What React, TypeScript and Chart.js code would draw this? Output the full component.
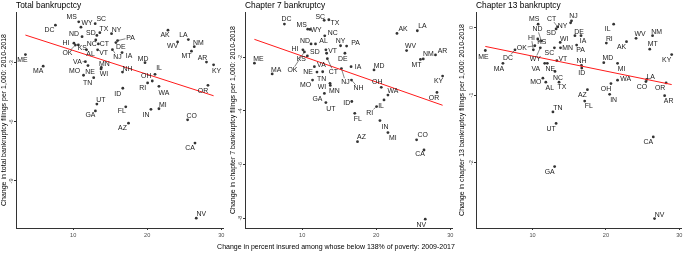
import React, { useEffect, useRef } from 'react';
import { Chart, registerables } from 'chart.js';

Chart.register(...registerables);

// ---------------- data ----------------
const states = ['AL','AK','AZ','AR','CA','CO','CT','DE','DC','FL','GA','HI','ID','IL','IN','IA','KS','KY','LA','ME','MD','MA','MI','MN','MS','MO','MT','NE','NV','NH','NJ','NM','NY','NC','ND','OH','OK','OR','PA','RI','SC','SD','TN','TX','UT','VT','VA','WA','WV','WI','WY'];

const insuredChange = [11.8,22.8,17.47,28.0,26.45,25.45,13.4,15.77,7.6,17.1,13.0,10.1,16.7,21.05,20.5,16.6,10.7,28.96,25.55,3.55,19.7,5.95,21.58,13.8,10.75,11.4,25.97,12.0,26.62,16.66,15.3,26.35,15.18,13.05,11.2,20.68,10.3,28.2,16.0,20.05,12.97,13.2,12.77,13.6,13.2,13.3,11.65,21.58,24.1,13.76,11.05];

const totalChange = [-2.35,-1.35,-6.07,-2.97,-7.08,-5.9,-2.05,-1.98,-1.10,-5.24,-5.45,-2.01,-4.3,-3.59,-5.37,-2.49,-2.1,-3.11,-1.83,-2.59,-3.0,-3.18,-5.34,-3.24,-0.93,-3.64,-2.42,-3.15,-10.89,-3.48,-2.34,-2.19,-1.53,-1.85,-1.68,-3.93,-2.11,-4.15,-1.88,-4.03,-1.02,-1.62,-3.76,-1.48,-5.1,-2.35,-2.95,-4.2,-1.95,-3.32,-1.2];

const ch7Change = [-1.5,-1.11,-5.15,-1.91,-5.46,-5.08,-2.05,-1.85,-0.76,-4.09,-3.35,-1.72,-3.65,-3.59,-4.36,-2.35,-1.95,-2.7,-1.01,-2.22,-2.47,-2.62,-4.81,-3.05,-0.95,-2.85,-2.08,-2.55,-8.04,-2.85,-2.42,-2.06,-1.57,-1.2,-1.5,-3.12,-1.8,-3.31,-1.58,-3.84,-0.62,-1.72,-2.54,-0.6,-3.69,-1.85,-2.35,-3.41,-1.75,-2.97,-0.96];

const ch13Change = [-0.81,-0.21,-0.92,-1.01,-1.62,-0.8,0.01,-0.12,-0.33,-1.09,-2.06,-0.33,-0.6,0.05,-0.99,-0.12,-0.17,-0.4,-0.77,-0.34,-0.52,-0.53,-0.53,-0.3,0.05,-0.75,-0.32,-0.53,-2.83,-0.56,0.1,-0.12,0.07,-0.65,-0.2,-0.83,-0.27,-0.82,-0.26,-0.23,-0.3,-0.02,-1.25,-0.81,-1.42,-0.49,-0.53,-0.78,-0.16,-0.22,-0.3];

// fitted regression line values at min / max insured change
const fitTotal = [-1.60, -4.68];
const fitCh7 = [-1.33, -3.79];
const fitCh13 = [-0.28, -0.845];

const xTicks = [10, 20, 30];
const totalTicks = [-9, -6, -3];
const ch7Ticks = [-8, -6, -4, -2];
const ch13Ticks = [-2, -1, 0];

const xRange = [2.28, 30.23];
const totalRange = [-11.39, -0.43];
const ch7Range = [-8.37, -0.31];
const ch13Range = [-2.97, 0.23];

const xTitle = 'Change in percent insured among whose below 138% of poverty: 2009-2017';

// ---------------- label placement (pixel offsets of label centre from point) ----------------
type Off = number[];
const offTotal: Record<string, Off> = {
  AL: [4, 4], AK: [-3, 5], AZ: [-6, 5], AR: [-4, -4], CA: [-5, 5], CO: [4, -4], CT: [6, 0], DE: [5, 4],
  DC: [-6, 5], FL: [-4, 4], GA: [-5, 4], HI: [-8, 0], ID: [-5, 6], IL: [4, -6], IN: [-5, 5], IA: [7, 3],
  KS: [4, 3], KY: [3, 6], LA: [-5, -5], ME: [-3, 5], MD: [-2, -4], MA: [-5, 5], MI: [4, -4], MN: [3, -4],
  MS: [-7, -5], MO: [-9, -4], MT: [-5, 5], NE: [2, 6], NV: [5, -4], NH: [5, -3], NJ: [5, 7, 1], NM: [4, -4],
  NY: [5, -4], NC: [-4, 4], ND: [-8, -3], OH: [-6, -5], OK: [-8, 8, 1], OR: [-5, 5], PA: [13, -3, 1], RI: [-5, 5],
  SC: [6, -5], SD: [-6, -3], TN: [-6, 5], TX: [4, -4], UT: [4, -4], VT: [6, 3], VA: [-8, 0, 1], WA: [5, 6],
  WV: [-5, 4], WI: [3, 5], WY: [6, -4],
};
const offCh7: Record<string, Off> = {
  AL: [8, -3], AK: [6, -5], AZ: [4, -5], AR: [7, -4], CA: [-4, 4], CO: [6, -5], CT: [6, 13, 1], DE: [-2, 6],
  DC: [2, -5], FL: [3, 5], GA: [-7, 5], HI: [-8, -1], ID: [-5, 1], IL: [-3, 6], IN: [5, 6], IA: [7, 0],
  KS: [-6, 3, 1], KY: [-4, 5], LA: [5, -5], ME: [4, -4], MD: [5, -4], MA: [4, -4], MI: [5, 5], MN: [4, 5],
  MS: [-6, -4], MO: [-7, 5], MT: [-4, 5], NE: [-9, 0], NV: [-4, 6], NH: [7, 8, 1], NJ: [4, 13, 1], NM: [5, -5],
  NY: [0, -5], NC: [8, -3], ND: [-6, -3], OH: [-4, -6], OK: [-12, 18, 1], OR: [-3, 5], PA: [9, -3], RI: [-7, 6, 1],
  SC: [-4, -4], SD: [-11, 2], TN: [-1, 7], TX: [6, 3], UT: [5, 6], VT: [6, -2], VA: [7, -2], WA: [5, -4],
  WV: [4, -5], WI: [-8, 4], WY: [6, 0],
};
const offCh13: Record<string, Off> = {
  AL: [4, 6], AK: [-5, 5], AZ: [-5, 5], AR: [4, 5], CA: [-5, 5], CO: [-4, 5], CT: [-6, -8, 1], DE: [4, -4],
  DC: [-7, 8, 1], FL: [4, 5], GA: [-5, 5], HI: [-2, -12, 1], ID: [0, 5], IL: [-6, 5], IN: [4, 5], IA: [2, 5],
  KS: [4, 3], KY: [-5, 5], LA: [4, -3], ME: [-2, 6], MD: [4, -5], MA: [-4, 5], MI: [4, 5], MN: [7, 0],
  MS: [-4, -5], MO: [-7, 4], MT: [3, -5], NE: [3, 5], NV: [5, -4], NH: [0, -5], NJ: [2, -5], NM: [4, -4],
  NY: [-8, 3], NC: [3, 6], ND: [-4, -12, 1], OH: [-5, 5], OK: [-13, 2, 1], OR: [-6, 5], PA: [4, 5], RI: [3, -4],
  SC: [-5, 5], SD: [-5, 4], TN: [5, -4], TX: [3, 5], UT: [-5, 5], VT: [6, -2], VA: [-9, 5], WA: [8, -1],
  WV: [4, -5], WI: [4, -4], WY: [-5, 11, 1],
};

const FONT = "'Liberation Sans', Arial, Helvetica, sans-serif";

function makeLabelPlugin(offsets: Record<string, Off>) {
  return {
    id: 'stateLabels',
    afterDatasetsDraw(chart: any) {
      const meta = chart.getDatasetMeta(1);
      const ctx = chart.ctx as CanvasRenderingContext2D;
      ctx.save();
      ctx.font = `6.9px ${FONT}`;
      ctx.textAlign = 'center';
      ctx.textBaseline = 'middle';
      meta.data.forEach((pt: any, i: number) => {
        const name = states[i];
        const o = offsets[name] || [5, -4];
        const lx = pt.x + o[0];
        const ly = pt.y + o[1];
        if (o[2]) {
          const hw = ctx.measureText(name).width / 2 + 0.8;
          const hh = 3.3;
          const vx = pt.x - lx;
          const vy = pt.y - ly;
          const t = Math.min(vx !== 0 ? hw / Math.abs(vx) : Infinity, vy !== 0 ? hh / Math.abs(vy) : Infinity);
          if (t < 1) {
            const len = Math.hypot(vx, vy);
            ctx.beginPath();
            ctx.moveTo(lx + vx * t, ly + vy * t);
            ctx.lineTo(pt.x - (vx / len) * 1.3, pt.y - (vy / len) * 1.3);
            ctx.strokeStyle = '#333';
            ctx.lineWidth = 0.6;
            ctx.stroke();
          }
        }
        ctx.fillStyle = '#1a1a1a';
        ctx.fillText(name, lx, ly + 0.3);
      });
      ctx.restore();
    },
  };
}

interface PanelProps {
  left: number;
  width: number;
  yValues: number[];
  yTicks: number[];
  yRange: number[];
  fit: number[];
  title: string;
  yTitle: string;
  offsets: Record<string, Off>;
  yAxisWidth: number;
  padRight: number;
}

function Panel(p: PanelProps) {
  const ref = useRef<HTMLCanvasElement>(null);
  useEffect(() => {
    if (!ref.current) return;
    const xMin = Math.min(...insuredChange);
    const xMax = Math.max(...insuredChange);
    const axisColor = '#333';
    const chart = new Chart(ref.current, {
      type: 'scatter',
      data: {
        datasets: [
          {
            data: [
              { x: xMin, y: p.fit[0] },
              { x: xMax, y: p.fit[1] },
            ],
            showLine: true,
            borderColor: '#ff1a1a',
            borderWidth: 1,
            pointRadius: 0,
            order: 0,
          } as any,
          {
            data: insuredChange.map((x, i) => ({ x, y: p.yValues[i] })),
            pointRadius: 1.4,
            pointBackgroundColor: '#333',
            pointBorderWidth: 0,
            order: 1,
          } as any,
        ],
      },
      options: {
        responsive: false,
        animation: false,
        layout: { padding: { left: 0, right: p.padRight, top: 0, bottom: 0 } },
        plugins: {
          legend: { display: false },
          tooltip: { enabled: false },
          title: {
            display: true,
            text: p.title,
            align: 'start',
            fullSize: false,
            color: '#000',
            font: { family: FONT, size: 8.4, weight: 'normal', lineHeight: 1.25 },
            padding: { top: 0, bottom: 1.5 },
          },
        },
        scales: {
          x: {
            type: 'linear',
            min: xRange[0],
            max: xRange[1],
            afterBuildTicks: (s: any) => {
              s.ticks = xTicks.map((v) => ({ value: v }));
            },
            afterFit: (s: any) => {
              s.height = 25;
              s.paddingLeft = 0;
              s.paddingRight = 0;
            },
            grid: { drawOnChartArea: false, drawTicks: true, tickLength: 2, color: axisColor, lineWidth: 1 },
            border: { display: true, color: axisColor, width: 1 },
            ticks: { font: { family: FONT, size: 5.6 }, color: '#4d4d4d', padding: 2, maxRotation: 0 },
          },
          y: {
            type: 'linear',
            min: p.yRange[0],
            max: p.yRange[1],
            afterBuildTicks: (s: any) => {
              s.ticks = p.yTicks.map((v) => ({ value: v }));
            },
            afterFit: (s: any) => {
              s.width = p.yAxisWidth;
              s.paddingTop = 0;
              s.paddingBottom = 0;
            },
            grid: { drawOnChartArea: false, drawTicks: true, tickLength: 2, color: axisColor, lineWidth: 1 },
            border: { display: true, color: axisColor, width: 1 },
            ticks: {
              font: { family: FONT, size: 5.6 },
              color: '#4d4d4d',
              padding: 0,
              minRotation: 90,
              maxRotation: 90,
              crossAlign: 'center',
            },
            title: {
              display: true,
              text: p.yTitle,
              color: '#000',
              font: { family: FONT, size: 7 },
              padding: { top: 0, bottom: 0 },
            },
          },
        },
      } as any,
      plugins: [makeLabelPlugin(p.offsets)],
    });
    return () => chart.destroy();
  }, []);
  return (
    <canvas
      ref={ref}
      width={p.width}
      height={253}
      style={{ position: 'absolute', left: p.left, top: 0, width: p.width, height: 253, display: 'block' }}
    />
  );
}

export default function App() {
  return (
    <div style={{ position: 'absolute', left: 0, top: 0, width: 685, height: 253, background: '#fff', overflow: 'hidden' }}>
      <Panel left={0} width={229} yValues={totalChange} yTicks={totalTicks} yRange={totalRange} fit={fitTotal}
        title="Total bankrupctcy" yTitle="Change in total bankruptcy filings per 1,000: 2010-2018"
        offsets={offTotal} yAxisWidth={16} padRight={6} />
      <Panel left={229} width={229} yValues={ch7Change} yTicks={ch7Ticks} yRange={ch7Range} fit={fitCh7}
        title="Chapter 7 bankruptcy" yTitle="Change in chapter 7 bankruptcy filings per 1,000: 2010-2018"
        offsets={offCh7} yAxisWidth={16} padRight={6} />
      <Panel left={458} width={227} yValues={ch13Change} yTicks={ch13Ticks} yRange={ch13Range} fit={fitCh13}
        title="Chapter 13 bankruptcy" yTitle="Change in chapter 13 bankruptcy filings per 1,000: 2010-2018"
        offsets={offCh13} yAxisWidth={18} padRight={2} />
      <div style={{ position: 'absolute', left: 136, top: 243, width: 400, textAlign: 'center', fontFamily: FONT, fontSize: 7, lineHeight: '8px', color: '#000', whiteSpace: 'nowrap' }}>
        {xTitle}
      </div>
    </div>
  );
}
